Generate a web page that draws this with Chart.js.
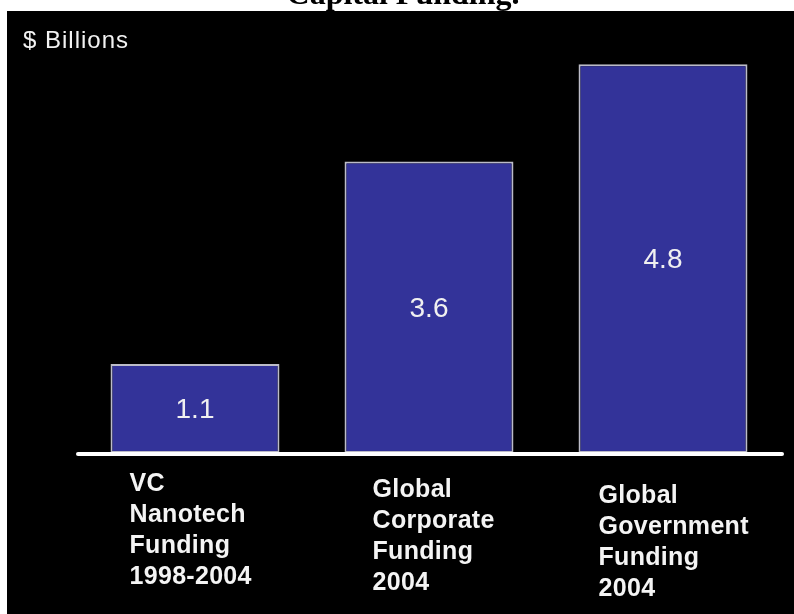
<!DOCTYPE html>
<html>
<head>
<meta charset="utf-8">
<script src="https://cdn.jsdelivr.net/npm/chart.js@4"></script>
<style>
  html, body { margin: 0; padding: 0; background: #ffffff; }
  #wrap { width: 794px; height: 614px; }
</style>
</head>
<body>
<div id="wrap"><canvas id="c" width="794" height="614"></canvas></div>
<script>
// ---- data ----
const chartTitle = 'Capital Funding.';
const unitLabel = '$ Billions';
const categories = [
  ['VC', 'Nanotech', 'Funding', '1998-2004'],
  ['Global', 'Corporate', 'Funding', '2004'],
  ['Global', 'Government', 'Funding', '2004']
];
const values = [1.1, 3.6, 4.8];
const valueLabels = ['1.1', '3.6', '4.8'];

// ---- styling helpers (positions kept out of the data) ----
const labelDx = [19, 28, 20];     // text indent from bar left edge
const labelDy = [31, 37, 43];     // first line centre below the baseline
const lineH = 31;

const backgroundPlugin = {
  id: 'bg',
  beforeDraw(chart) {
    const ctx = chart.ctx;
    ctx.save();
    ctx.fillStyle = '#ffffff';
    ctx.fillRect(0, 0, chart.width, chart.height);
    ctx.fillStyle = '#000000';
    ctx.font = 'bold 32px "Liberation Serif", "Times New Roman", serif';
    ctx.textAlign = 'center';
    ctx.textBaseline = 'alphabetic';
    ctx.fillText(chartTitle, 403, 4);
    ctx.fillStyle = '#000000';
    ctx.fillRect(7, 11, chart.width - 7, chart.height - 11);
    ctx.fillStyle = '#f2f2f2';
    ctx.font = '24px "Liberation Sans", Arial, sans-serif';
    ctx.letterSpacing = '1px';
    ctx.textAlign = 'left';
    ctx.textBaseline = 'middle';
    ctx.fillText(unitLabel, 23, 41);
    ctx.restore();
  }
};

const decorPlugin = {
  id: 'decor',
  afterDatasetsDraw(chart) {
    const ctx = chart.ctx;
    const meta = chart.getDatasetMeta(0);
    const y0 = chart.scales.y.getPixelForValue(0);
    const area = chart.chartArea;
    ctx.save();
    // baseline
    ctx.strokeStyle = '#ffffff';
    ctx.lineWidth = 4;
    ctx.lineCap = 'round';
    ctx.beginPath();
    ctx.moveTo(area.left, y0 + 1);
    ctx.lineTo(area.right + 2, y0 + 1);
    ctx.stroke();
    // value labels
    ctx.fillStyle = '#f0f0f0';
    ctx.font = '28px "Liberation Sans", Arial, sans-serif';
    ctx.textAlign = 'center';
    ctx.textBaseline = 'middle';
    meta.data.forEach((bar, i) => {
      ctx.fillText(valueLabels[i], bar.x, (bar.y + bar.base) / 2 + 2);
    });
    // category labels
    ctx.fillStyle = '#f4f4f4';
    ctx.font = 'bold 25px "Liberation Sans", Arial, sans-serif';
    ctx.letterSpacing = '0.3px';
    ctx.textAlign = 'left';
    meta.data.forEach((bar, i) => {
      const left = bar.x - bar.width / 2 + labelDx[i];
      categories[i].forEach((line, k) => {
        ctx.fillText(line, left, y0 + labelDy[i] + k * lineH);
      });
    });
    ctx.restore();
  }
};

new Chart(document.getElementById('c'), {
  type: 'bar',
  data: {
    labels: categories.map(c => c.join(' ')),
    datasets: [{
      data: values,
      backgroundColor: '#333399',
      borderColor: '#bcbcc8',
      borderWidth: 2,
      borderSkipped: false,
      categoryPercentage: 1,
      barPercentage: 0.722
    }]
  },
  options: {
    responsive: false,
    animation: false,
    layout: { padding: { left: 78, right: 14, top: 48, bottom: 161 } },
    plugins: { legend: { display: false }, tooltip: { enabled: false }, title: { display: false } },
    scales: {
      x: { display: false },
      y: { display: false, min: 0, max: 5 }
    }
  },
  plugins: [backgroundPlugin, decorPlugin]
});
</script>
</body>
</html>
